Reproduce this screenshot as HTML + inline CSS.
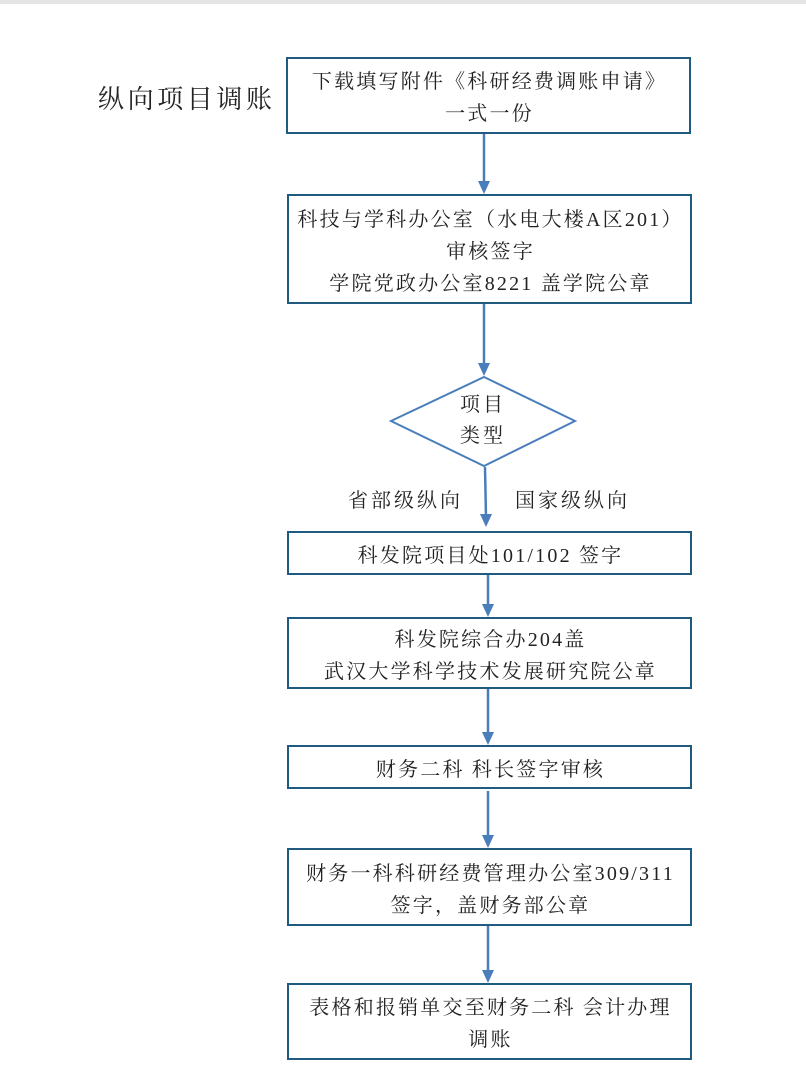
<!DOCTYPE html>
<html><head><meta charset="utf-8"><style>
body{margin:0;width:806px;height:1072px;background:#fff;position:relative;overflow:hidden;font-family:"Liberation Serif","Noto Serif CJK SC",serif;color:#222}
.top{position:absolute;left:0;top:0;width:806px;height:4px;background:#e4e4e4}
.b{position:absolute;box-sizing:border-box;border:2px solid #1f5a80;display:flex;align-items:center;justify-content:center;text-align:center;font-size:20px;line-height:32px;white-space:nowrap;letter-spacing:2.2px;padding-top:5px;padding-left:2px}
.t{position:absolute;white-space:nowrap;letter-spacing:2.2px}
svg{position:absolute;left:0;top:0}
</style></head><body>
<div class="top"></div>
<div class="t" style="left:98px;top:79px;font-size:26px;letter-spacing:3.6px">纵向项目调账</div>
<svg width="806" height="1072">
<g stroke="#4a7ebb" stroke-width="2.5" fill="none">
<line x1="484" y1="134" x2="484" y2="184"/>
<line x1="484" y1="304" x2="484" y2="366"/>
<line x1="485" y1="467" x2="486" y2="518"/>
<line x1="488" y1="575" x2="488" y2="607"/>
<line x1="488" y1="689" x2="488" y2="735"/>
<line x1="488" y1="791" x2="488" y2="838"/>
<line x1="488" y1="926" x2="488" y2="973"/>
<polygon points="484,377 575,421 484,466 391,421" stroke-width="2"/>
</g>
<g fill="#4a7ebb">
<polygon points="478,181 490,181 484,194"/>
<polygon points="478,363 490,363 484,376"/>
<polygon points="480,514 492,514 486,527"/>
<polygon points="482,604 494,604 488,617"/>
<polygon points="482,732 494,732 488,745"/>
<polygon points="482,835 494,835 488,848"/>
<polygon points="482,970 494,970 488,983"/>
</g>
</svg>
<div class="b" style="left:286px;top:57px;width:405px;height:77px">下载填写附件《科研经费调账申请》<br>一式一份</div>
<div class="b" style="left:287px;top:194px;width:405px;height:110px">科技与学科办公室（水电大楼A区201）<br>审核签字<br>学院党政办公室8221 盖学院公章</div>
<div class="t" style="left:460px;top:390px;font-size:20px;line-height:31px;text-align:center;letter-spacing:3px">项目<br>类型</div>
<div class="t" style="left:348px;top:484px;font-size:20px;letter-spacing:3px">省部级纵向</div>
<div class="t" style="left:515px;top:484px;font-size:20px;letter-spacing:3px">国家级纵向</div>
<div class="b" style="left:287px;top:531px;width:405px;height:44px">科发院项目处101/102 签字</div>
<div class="b" style="left:287px;top:617px;width:405px;height:72px">科发院综合办204盖<br>武汉大学科学技术发展研究院公章</div>
<div class="b" style="left:287px;top:745px;width:405px;height:44px">财务二科 科长签字审核</div>
<div class="b" style="left:287px;top:848px;width:405px;height:78px">财务一科科研经费管理办公室309/311<br>签字，盖财务部公章</div>
<div class="b" style="left:287px;top:983px;width:405px;height:77px">表格和报销单交至财务二科 会计办理<br>调账</div>
</body></html>
